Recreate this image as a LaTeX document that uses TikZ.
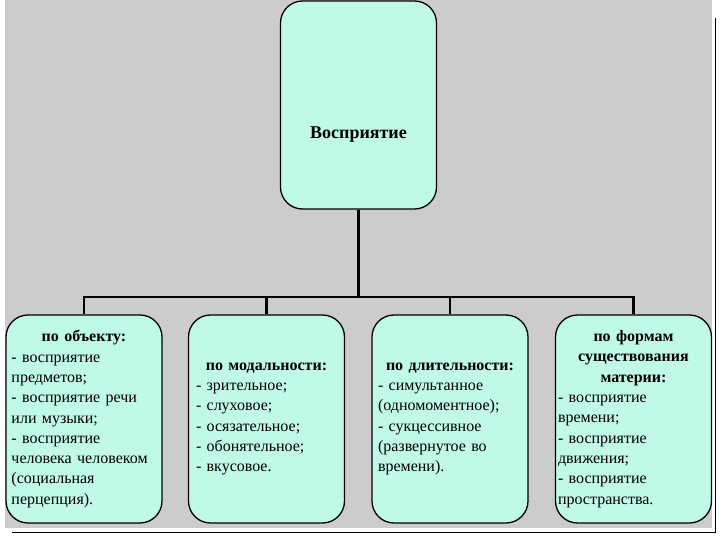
\documentclass[tikz,border=0pt]{standalone}
\usepackage{fontspec}
\setmainfont{Liberation Serif}
\usetikzlibrary{positioning}

\definecolor{mint}{RGB}{192,249,229}
\definecolor{backgr}{RGB}{204,204,204}
\newcommand{\hdr}[1]{\makebox[\linewidth][c]{\bfseries #1}}

\begin{document}
\begin{tikzpicture}[x=1pt, y=-1pt,
    box/.style={draw, line width=1.3pt, fill=mint, rounded corners=22pt,
        minimum width=156pt, minimum height=208pt, inner sep=0pt},
    kind/.style={box, align=left, font=\fontsize{16}{20.3}\selectfont},
    conn/.style={line width=2.6pt}]

    \useasboundingbox (0,0) rectangle (720,540);
    \fill[backgr] (5,0) rectangle (712,528);
    \draw[line width=1pt] (715,18) -- (715,532) -- (12,532);

    \node[box] (vos) at (358.5,105) {};
    \node[font=\fontsize{18}{22}\selectfont\bfseries] (vostitle) at (358.5,135) {Восприятие};

    \node[kind, text width=145pt] (obj) at (84,419) {\hdr{по объекту:}\\
        - восприятие\\ предметов;\\ - восприятие речи\\ или музыки;\\
        - восприятие\\ человека человеком\\ (социальная\\ перцепция).};
    \node[kind, text width=141pt] (mod) at (266.5,419) {\hdr{по модальности:}\\
        - зрительное;\\ - слуховое;\\ - осязательное;\\ - обонятельное;\\ - вкусовое.};
    \node[kind, text width=144pt] (dur) at (450,419) {\hdr{по длительности:}\\
        - симультанное\\ (одномоментное);\\ - сукцессивное\\ (развернутое во\\ времени).};
    \node[kind, text width=151pt] (form) at (633.5,419) {\hdr{по формам}\\
        \hdr{существования}\\ \hdr{материи:}\\
        - восприятие\\ времени;\\ - восприятие\\ движения;\\ - восприятие\\ пространства.};

    \coordinate (hub) at (358.5,297);
    \draw[conn] (vos) -- (hub);
    \draw[conn] (hub) -| (obj);
    \draw[conn] (hub) -| (mod);
    \draw[conn] (hub) -| (dur);
    \draw[conn] (hub) -| (form);

\end{tikzpicture}
\end{document}
